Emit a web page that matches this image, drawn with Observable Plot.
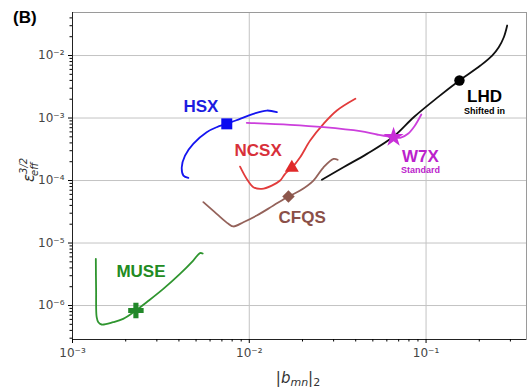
<!DOCTYPE html>
<html>
<head>
<meta charset="utf-8">
<script src="https://cdn.jsdelivr.net/npm/d3@7"></script>
<script src="https://cdn.jsdelivr.net/npm/@observablehq/plot@0.6"></script>
<style>
  html, body { margin: 0; padding: 0; background: #fff; }
  #wrap { position: relative; width: 529px; height: 390px; }
  #panel { position: absolute; left: 13px; top: 8px; font: bold 17px "Liberation Sans", Arial, sans-serif; color: #000; }
</style>
</head>
<body>
<div id="wrap"><div id="panel">(B)</div></div>
<script>
// ---- data (x = |b_mn|_2, y = eps_eff^{3/2}) ----
const hsx = [[0.00452,1.10e-4],[0.00424,1.20e-4],[0.00415,1.63e-4],[0.00433,2.51e-4],[0.00482,3.86e-4],[0.00574,5.93e-4],[0.00654,7.13e-4],[0.00746,8.07e-4],[0.00887,9.70e-4],[0.01055,1.167e-3],[0.01257,1.318e-3],[0.01432,1.24e-3]];
const ncsx = [[0.00887,1.67e-4],[0.00968,1.06e-4],[0.01055,7.8e-5],[0.01177,7.36e-5],[0.0134,8.3e-5],[0.01495,1.0e-4],[0.01595,1.28e-4],[0.01741,1.60e-4],[0.0194,2.36e-4],[0.0221,4.37e-4],[0.0263,8.07e-4],[0.0313,1.318e-3],[0.0398,2.03e-3]];
const cfqs = [[0.0055,4.5e-5],[0.00654,2.93e-5],[0.00762,2.03e-5],[0.00813,1.84e-5],[0.00926,2.15e-5],[0.01102,2.75e-5],[0.0137,3.98e-5],[0.01666,5.55e-5],[0.0194,6.92e-5],[0.02307,1.0e-4],[0.0263,1.63e-4],[0.0300,2.22e-4],[0.0316,2.15e-4]];
const w7x = [[0.00968,8.38e-4],[0.01703,7.78e-4],[0.0263,7.13e-4],[0.0424,6.15e-4],[0.0528,5.45e-4],[0.0655,4.93e-4],[0.0720,4.85e-4],[0.0790,5.6e-4],[0.0860,7.4e-4],[0.0940,1.14e-3]];
const lhd = [[0.02575,1.026e-4],[0.0341,1.63e-4],[0.0463,2.67e-4],[0.0655,5.06e-4],[0.0851,1.03e-3],[0.1154,2.1e-3],[0.1545,3.98e-3],[0.203,6.92e-3],[0.2366,1.0e-2],[0.2578,1.36e-2],[0.2754,1.96e-2],[0.2877,3.02e-2]];
const muse = [[0.001355,5.58e-6],[0.00136,1.74e-6],[0.00137,6.5e-7],[0.0014,5.4e-7],[0.00146,4.97e-7],[0.0017,5.41e-7],[0.001935,6.12e-7],[0.002284,8.32e-7],[0.002626,1.13e-6],[0.003263,1.85e-6],[0.004055,3.21e-6],[0.00482,5.25e-6],[0.00526,6.9e-6],[0.00545,6.8e-6]];

// highlighted configuration of each device
const markers = [
  {name:"HSX",  x:0.00746, y:8.07e-4, symbol:"square"},
  {name:"NCSX", x:0.01741, y:1.60e-4, symbol:"triangle"},
  {name:"CFQS", x:0.01666, y:5.55e-5, symbol:"diamond2"},
  {name:"W7X",  x:0.0655,  y:4.93e-4, symbol:"star"},
  {name:"LHD",  x:0.1545,  y:3.98e-3, symbol:"circle"},
  {name:"MUSE", x:0.002284,y:8.32e-7, symbol:"cross"}
];

// labels
const labels = [
  {text:"HSX",  x:0.00533, y:1.5e-3,  name:"HSX"},
  {text:"NCSX", x:0.01122, y:3.02e-4, name:"NCSX"},
  {text:"CFQS", x:0.0199,  y:2.56e-5, name:"CFQS"},
  {text:"W7X",  x:0.0929,  y:2.42e-4, name:"W7X"},
  {text:"LHD",  x:0.214,   y:2.21e-3, name:"LHD"},
  {text:"MUSE", x:0.00244, y:3.5e-6,  name:"MUSE"}
];
const sublabels = [
  {text:"Standard",   x:0.0929, y:1.45e-4, name:"W7X"},
  {text:"Shifted in", x:0.214,  y:1.27e-3, name:"LHD"}
];

const xMajor = [1e-3, 1e-2, 1e-1];
const yMajor = [1e-6, 1e-5, 1e-4, 1e-3, 1e-2];

// ---- styling ----
const lineColor = {HSX:"#1515f0", NCSX:"#e23b3b", CFQS:"#94625a", W7X:"#cc3fdc", LHD:"#111111", MUSE:"#2f952f"};
const markColor = {HSX:"#0a0af0", NCSX:"#e02a2a", CFQS:"#8c564b", W7X:"#c82fd8", LHD:"#000000", MUSE:"#22882a"};
const textColor = {HSX:"#1c1ce0", NCSX:"#d8303a", CFQS:"#8b5048", W7X:"#bb22cc", LHD:"#000000", MUSE:"#228b22"};
const markSize = {square: 6.2, triangle: 5.2, diamond2: 5.6, star: 6.3, circle: 5.2, cross: 6.5};

const xDomain = [1e-3, 0.37];
const yDomain = [2.86e-7, 0.0488];

const sup = {"-":"\u207B","0":"\u2070","1":"\u00B9","2":"\u00B2","3":"\u00B3","4":"\u2074","5":"\u2075","6":"\u2076","7":"\u2077","8":"\u2078","9":"\u2079"};
const fmt = d => "10" + String(Math.round(Math.log10(d))).split("").map(c => sup[c]).join("");

function minors(lo, hi) {
  const out = [];
  for (let e = Math.floor(Math.log10(lo)); e <= Math.ceil(Math.log10(hi)); e++)
    for (let m = 2; m <= 9; m++) { const v = m * Math.pow(10, e); if (v > lo && v < hi) out.push(v); }
  return out;
}

const series = [["HSX",hsx],["NCSX",ncsx],["CFQS",cfqs],["W7X",w7x],["LHD",lhd],["MUSE",muse]];

const chart = Plot.plot({
  width: 529, height: 390,
  marginLeft: 72, marginTop: 12, marginRight: 3, marginBottom: 51,
  style: {fontFamily: "'DejaVu Sans', sans-serif", background: "#fff"},
  x: {type: "log", domain: xDomain},
  y: {type: "log", domain: yDomain},
  r: {type: "identity"},
  marks: [
    Plot.gridX(xMajor, {stroke: "#c4c4c4", strokeOpacity: 1, strokeWidth: 1}),
    Plot.gridY(yMajor, {stroke: "#c4c4c4", strokeOpacity: 1, strokeWidth: 1}),
    Plot.frame({stroke: "#9a9a9a"}),
    Plot.ruleX([xDomain[0]], {stroke: "#222"}),
    Plot.ruleY([yDomain[0]], {stroke: "#222"}),
    Plot.axisX({ticks: xMajor, tickFormat: fmt, tickSize: 4, fontSize: 12, fill: "#444", tickPadding: 5, label: null}),
    Plot.axisX({ticks: minors(xDomain[0], xDomain[1]), tickFormat: () => "", tickSize: 2.5, label: null}),
    Plot.axisY({ticks: yMajor, tickFormat: fmt, tickSize: 4, fontSize: 12, fill: "#444", tickPadding: 4, label: null}),
    Plot.axisY({ticks: minors(yDomain[0], yDomain[1]), tickFormat: () => "", tickSize: 2.5, label: null}),
    ...series.map(([name, pts]) => Plot.line(pts, {x: d => d[0], y: d => d[1], stroke: lineColor[name], strokeWidth: 1.8, curve: "catmull-rom"})),
    Plot.dot(markers, {x: "x", y: "y", symbol: "symbol", fill: d => markColor[d.name], stroke: "none", r: d => markSize[d.symbol]}),
    Plot.text(labels, {x: "x", y: "y", text: "text", fill: d => textColor[d.name], fontSize: 17, fontWeight: "bold", fontFamily: "'Liberation Sans', Arial, sans-serif"}),
    Plot.text(sublabels, {x: "x", y: "y", text: "text", fill: d => textColor[d.name], fontSize: 9, fontWeight: "bold", fontFamily: "'Liberation Sans', Arial, sans-serif"})
  ]
});
document.getElementById("wrap").appendChild(chart);

// axis titles with math styling
const svg = d3.select(chart);
const xl = svg.append("text").attr("x", 298).attr("y", 383).attr("text-anchor", "middle")
  .attr("font-family", "'DejaVu Sans', sans-serif").attr("font-size", 15).attr("fill", "#333");
xl.append("tspan").text("|");
xl.append("tspan").attr("font-style", "italic").text("b");
xl.append("tspan").attr("font-style", "italic").attr("font-size", 11).attr("dy", 3).text("mn");
xl.append("tspan").attr("dy", -3).text("|");
xl.append("tspan").attr("font-size", 11).attr("dy", 3).text("2");

const yl = svg.append("text").attr("transform", "translate(34,170) rotate(-90)").attr("text-anchor", "middle")
  .attr("font-family", "'DejaVu Sans', sans-serif").attr("font-size", 15).attr("fill", "#333");
yl.append("tspan").attr("font-style", "italic").text("\u03B5");
yl.append("tspan").attr("font-style", "italic").attr("font-size", 10).attr("dy", -7).text("3/2");
yl.append("tspan").attr("font-style", "italic").attr("font-size", 10).attr("dx", -18).attr("dy", 11).text("eff");
</script>
</body>
</html>
